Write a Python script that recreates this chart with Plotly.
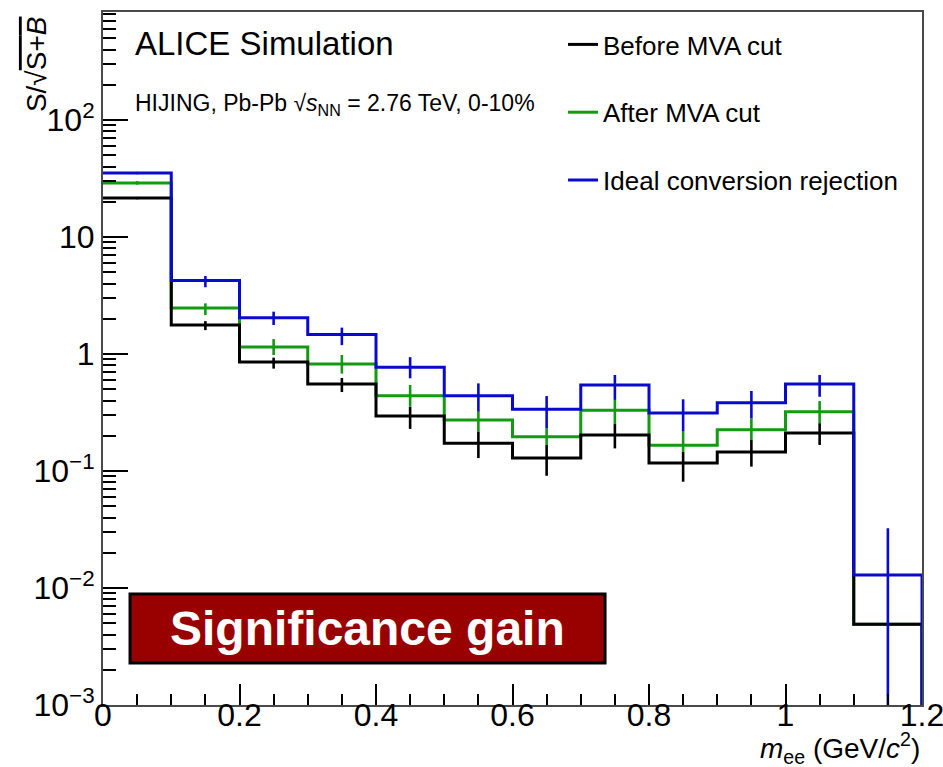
import plotly.graph_objects as go

# ---------------- data ----------------
bin_edges = [0.0, 0.1, 0.2, 0.3, 0.4, 0.5, 0.6, 0.7, 0.8, 0.9, 1.0, 1.1, 1.2]
bin_centers = [0.05, 0.15, 0.25, 0.35, 0.45, 0.55, 0.65, 0.75, 0.85, 0.95, 1.05, 1.15]

before_vals = [21.5, 1.77, 0.855, 0.555, 0.295, 0.173, 0.129, 0.203, 0.117, 0.145, 0.211, 0.0049]
before_hi = [22.0, 1.91, 0.93, 0.624, 0.354, 0.217, 0.167, 0.252, 0.146, 0.184, 0.256, 0.0049]
before_lo = [21.0, 1.60, 0.75, 0.473, 0.229, 0.129, 0.091, 0.156, 0.081, 0.109, 0.167, 0.0049]

after_vals = [29.0, 2.47, 1.15, 0.82, 0.44, 0.273, 0.196, 0.33, 0.166, 0.225, 0.321, 0.0049]
after_hi = [30.0, 2.71, 1.34, 0.98, 0.543, 0.321, 0.231, 0.405, 0.217, 0.282, 0.396, 0.0049]
after_lo = [28.0, 2.15, 0.98, 0.68, 0.355, 0.217, 0.167, 0.252, 0.146, 0.184, 0.256, 0.0049]

ideal_vals = [35.2, 4.24, 2.04, 1.47, 0.77, 0.44, 0.337, 0.543, 0.313, 0.384, 0.555, 0.0129]
ideal_hi = [36.0, 4.64, 2.30, 1.68, 0.94, 0.561, 0.437, 0.662, 0.41, 0.483, 0.662, 0.0324]
ideal_lo = [34.4, 3.72, 1.77, 1.19, 0.62, 0.321, 0.231, 0.405, 0.217, 0.282, 0.431, 0.00001]

y_tick_vals = [0.001, 0.01, 0.1, 1, 10, 100]
y_tick_text = ["10<sup>−3</sup>", "10<sup>−2</sup>", "10<sup>−1</sup>", "1", "10", "10<sup>2</sup>"]

FONT = "Liberation Sans, Arial, Helvetica, sans-serif"
C_BLACK = "#000000"
C_GREEN = "#129a12"
C_BLUE = "#0a0acc"

fig = go.Figure()

series = [
    # (name, vals, hi, lo, color, rank)  - drawn in this order (green under black under blue)
    ("After MVA cut", after_vals, after_hi, after_lo, C_GREEN, 2),
    ("Before MVA cut", before_vals, before_hi, before_lo, C_BLACK, 1),
    ("Ideal conversion rejection", ideal_vals, ideal_hi, ideal_lo, C_BLUE, 3),
]

for name, vals, hi, lo, col, rank in series:
    xs = list(bin_edges) + [bin_edges[-1]]
    ys = list(vals) + [vals[-1], 1e-7]
    fig.add_trace(go.Scatter(
        x=xs, y=ys, mode="lines", line=dict(shape="hv", color=col, width=3),
        name=name, legendgroup=name, legendrank=rank, showlegend=True,
        hoverinfo="skip",
    ))
    fig.add_trace(go.Scatter(
        x=bin_centers, y=vals, mode="markers",
        marker=dict(size=1, color=col, opacity=0),
        error_y=dict(type="data", symmetric=False,
                     array=[h - v for h, v in zip(hi, vals)],
                     arrayminus=[v - l for v, l in zip(vals, lo)],
                     color=col, thickness=2.6, width=0),
        legendgroup=name, showlegend=False, hoverinfo="skip",
    ))

axis_common = dict(
    showgrid=False, zeroline=False, showline=True, linecolor="#4a4a4a", linewidth=2,
    mirror=True, ticks="inside", tickcolor="#000000", tickwidth=1.5,
    tickfont=dict(family=FONT, size=32, color="#000000"),
    ticklabeloverflow="allow", automargin=False,
)

fig.update_xaxes(
    range=[0, 1.2], tickmode="linear", tick0=0, dtick=0.2, ticklen=21,
    ticklabelstandoff=-19,
    minor=dict(ticks="inside", dtick=0.05, ticklen=11, tickcolor="#000000", tickwidth=1.5, showgrid=False),
    **axis_common,
)

minor_y = [m * 10 ** k for k in range(-3, 3) for m in range(2, 10)]
fig.update_yaxes(
    type="log", range=[-3, 2.923], tickmode="array", tickvals=y_tick_vals, ticktext=y_tick_text,
    ticklen=25,
    minor=dict(ticks="inside", tickmode="array", tickvals=minor_y, ticklen=13,
               tickcolor="#000000", tickwidth=1.5, showgrid=False),
    **axis_common,
)

fig.update_layout(
    width=943, height=767,
    margin=dict(l=103, r=21, t=12, b=62, autoexpand=False),
    paper_bgcolor="white", plot_bgcolor="white",
    font=dict(family=FONT, color="#000000"),
    showlegend=True,
    legend=dict(
        x=0.5617, y=0.987, xanchor="left", yanchor="top",
        bgcolor="rgba(0,0,0,0)", borderwidth=0,
        font=dict(family=FONT, size=26, color="#000000"),
        traceorder="grouped", tracegroupgap=31, itemwidth=30,
    ),
)

# text annotations
fig.add_annotation(
    xref="paper", yref="paper", x=0.0366, y=0.954, xanchor="left", yanchor="middle",
    text="ALICE Simulation", showarrow=False, font=dict(family=FONT, size=33, color="#000000"),
)
fig.add_annotation(
    xref="paper", yref="paper", x=0.0366, y=0.866, xanchor="left", yanchor="middle",
    text="HIJING, Pb-Pb √<i>s</i><sub>NN</sub> = 2.76 TeV, 0-10%", showarrow=False,
    font=dict(family=FONT, size=23, color="#000000"),
)
fig.add_annotation(
    xref="paper", yref="paper", x=1.0, y=-0.062, xanchor="right", yanchor="middle",
    text="<i>m</i><sub>ee</sub> (GeV/<i>c</i><sup>2</sup>)", showarrow=False,
    font=dict(family=FONT, size=28, color="#000000"),
)
fig.add_annotation(
    xref="paper", yref="paper", x=-0.0818, y=0.997, xanchor="center", yanchor="top",
    text="S/√<span style='text-decoration:overline'>S+<i>B</i></span>", textangle=-90, showarrow=False,
    font=dict(family=FONT, size=28, color="#000000"),
)

# "Significance gain" box
fig.add_shape(
    type="rect", xref="paper", yref="paper", x0=0.033, x1=0.613, y0=0.0606, y1=0.160,
    fillcolor="#990000", line=dict(color="#000000", width=3), layer="above",
)
fig.add_annotation(
    xref="paper", yref="paper", x=0.3235, y=0.110, xanchor="center", yanchor="middle",
    text="<b>Significance gain</b>", showarrow=False,
    font=dict(family=FONT, size=48, color="#ffffff"),
)

fig.write_html("out.html")
